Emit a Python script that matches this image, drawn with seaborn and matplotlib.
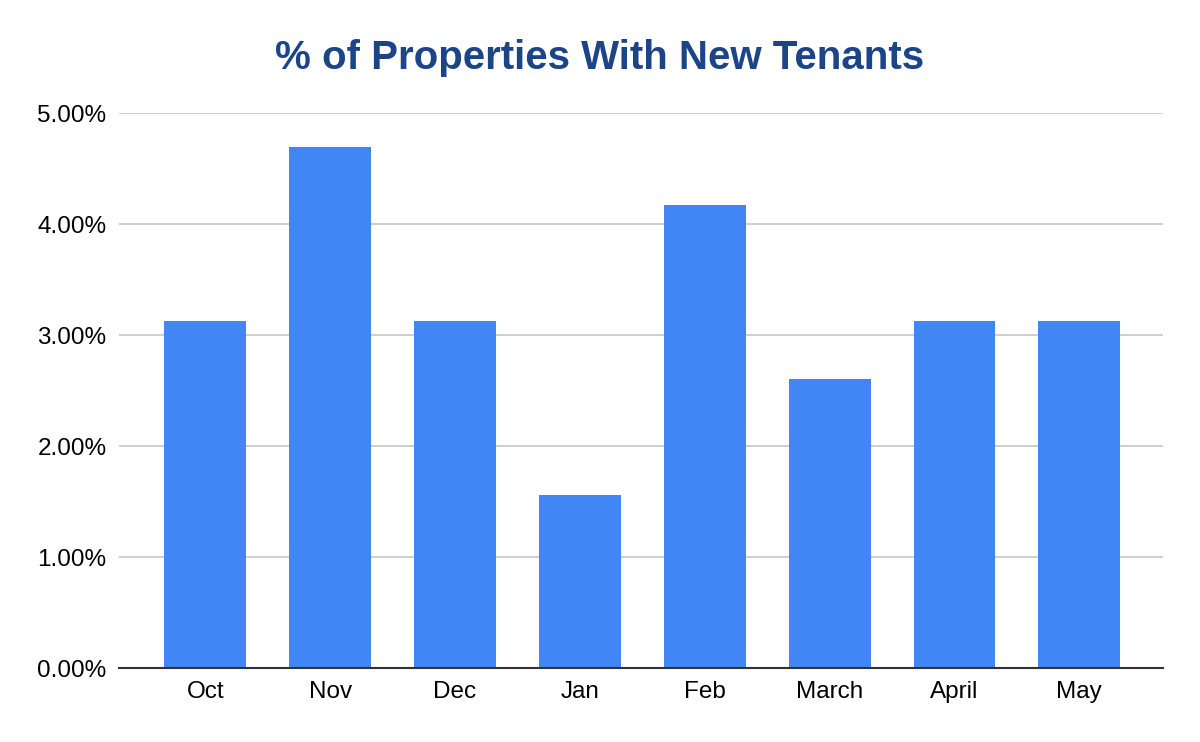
import matplotlib
matplotlib.use("Agg")
import matplotlib.pyplot as plt
import matplotlib.font_manager as fm
import seaborn as sns
import pandas as pd
from matplotlib.ticker import FuncFormatter

# Data
months = ["Oct", "Nov", "Dec", "Jan", "Feb", "March", "April", "May"]
pct_new_tenants = [3.13, 4.69, 3.13, 1.56, 4.17, 2.60, 3.13, 3.13]
y_ticks = [0, 1, 2, 3, 4, 5]

df = pd.DataFrame({"month": months, "pct": pct_new_tenants})

sns.set_style("white")
plt.rcParams["font.family"] = ["Liberation Sans", "DejaVu Sans"]

# make sure the regular (not Narrow) Liberation Sans file is used for labels
regular = [f.fname for f in fm.fontManager.ttflist
           if f.name == "Liberation Sans" and f.style == "normal"
           and f.weight in (400, "normal", "regular") and "Narrow" not in f.fname]
label_font = fm.FontProperties(fname=regular[0]) if regular else fm.FontProperties(family="Liberation Sans")
label_font.set_size(17.5)

fig = plt.figure(figsize=(12, 7.42), dpi=100)
ax = fig.add_axes([0.0992, 0.0997, 0.8700, 0.7480])

sns.barplot(data=df, x="month", y="pct", color="#4285F4", saturation=1,
            width=0.656, linewidth=0, ax=ax, zorder=3)

ax.set_ylim(0, 5)
ax.set_xlim(-0.69, 7.67)
ax.set_yticks(y_ticks)
ax.yaxis.set_major_formatter(FuncFormatter(lambda v, p: f"{v:.2f}%"))
ax.grid(axis="y", color="#cccccc", linewidth=1.3, zorder=0)
ax.set_xlabel("")
ax.set_ylabel("")

for s in ["top", "right", "left"]:
    ax.spines[s].set_visible(False)
ax.spines["bottom"].set_color("#333333")
ax.spines["bottom"].set_linewidth(1.5)
ax.spines["bottom"].set_zorder(4)

ax.tick_params(axis="both", length=0, colors="#000000")
ax.tick_params(axis="y", pad=9)
ax.tick_params(axis="x", pad=9)
for lbl in ax.get_xticklabels() + ax.get_yticklabels():
    lbl.set_fontproperties(label_font)

fig.text(0.5, 0.922, "% of Properties With New Tenants", ha="center", va="center",
         fontsize=29, fontweight="bold", color="#1c4587")

fig.savefig("out.png", dpi=100, facecolor="white")
